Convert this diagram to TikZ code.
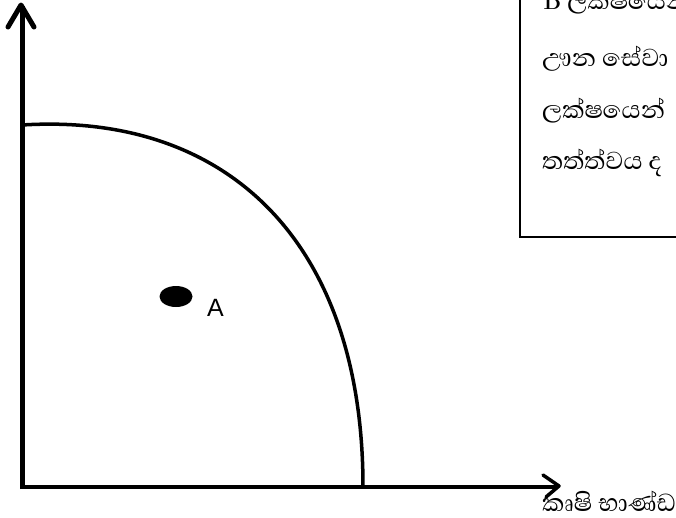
\documentclass[tikz,border=0pt]{standalone}
\usepackage{fontspec}
\setmainfont{Liberation Sans}
\newfontfamily\sinhfont[Script=Sinhala]{Abhaya Libre}
\begin{document}
\begin{tikzpicture}[x=1pt,y=-1pt,
  axisline/.style={line width=#1, line cap=round, line join=round},
  sintext/.style={anchor=base west, inner sep=0pt, font=\sinhfont\fontsize{31.5}{34}\selectfont},
  ]
\useasboundingbox (0,0) rectangle (676,517);
\clip (0,0) rectangle (676,517);
% axes
\coordinate (O) at (22,487);
\draw[line width=5pt] (22,489) -- (22,6);
\draw[axisline=5pt] (8,27) -- (21,5) -- (34,27);
\draw[line width=4pt] (20,487) -- (558,487);
\draw[axisline=3.5pt] (543,475) -- (559,486) -- (546,497);
% curve
\draw[line width=3.5pt] (22,125) .. controls (230,112) and (363,245) .. (363,487);
% point A
\fill (176,296.5) ellipse [x radius=16.5pt, y radius=10.5pt];
\node[anchor=base west, inner sep=0pt, font=\fontsize{25}{30}\selectfont] (lblA) at (207,316) {A};
% text box
\draw[line width=1.2pt] (520,-10) rectangle (700,237);
\node[sintext] (t1) at (543,9) {B ලක්ෂයෙන්};
\node[sintext] (t2) at (542,66) {ඌන සේවා};
\node[sintext] (t3) at (542,118) {ලක්ෂයෙන්};
\node[sintext] (t4) at (542,169) {තත්ත්වය ද};
% x label
\node[sintext] (xl) at (542,511) {කෘෂි භාණ්ඩ};
\end{tikzpicture}
\end{document}
